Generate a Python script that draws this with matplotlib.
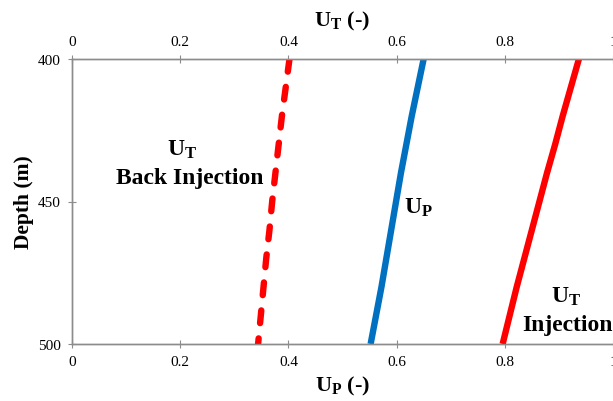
import matplotlib.pyplot as plt

plt.rcParams['font.family'] = 'Liberation Serif'
plt.rcParams['mathtext.fontset'] = 'custom'
plt.rcParams['mathtext.rm'] = 'Liberation Serif:bold'
plt.rcParams['mathtext.bf'] = 'Liberation Serif:bold'
plt.rcParams['mathtext.default'] = 'bf'

# depth (m) and the three profiles
depth = [400, 410, 420, 430, 440, 450, 460, 470, 480, 490, 500]
up = [0.650, 0.639, 0.628, 0.618, 0.608, 0.599, 0.590, 0.581, 0.572, 0.562, 0.552]
ut_injection = [0.937, 0.922, 0.907, 0.893, 0.878, 0.864, 0.850, 0.836, 0.822, 0.809, 0.796]
ut_back = [0.402, 0.395, 0.388, 0.382, 0.376, 0.370, 0.365, 0.359, 0.354, 0.349, 0.344]

xticks = [0, 0.2, 0.4, 0.6, 0.8, 1]
xticklabels = ['0', '0.2', '0.4', '0.6', '0.8', '1']
yticks = [400, 450, 500]

axis_grey = '#8c8c8c'

fig = plt.figure(figsize=(6.13, 4.02), dpi=100)
ax = fig.add_axes([72/613, 1 - 345/402, 541/613, 285/402])
ax2 = ax.twiny()

ax.plot(up, depth, color='#0070c0', lw=4.6, solid_capstyle='butt')
ax2.plot(ut_injection, depth, color='#ff0000', lw=4.6, solid_capstyle='butt')
ax2.plot(ut_back, depth, color='#ff0000', lw=4.6, dashes=(2, 2.4),
         dash_capstyle='round')

for a in (ax, ax2):
    a.set_xlim(0, 1)
    a.set_ylim(500, 400)
    a.set_xticks(xticks)
    a.set_xticklabels(xticklabels)
    a.spines['right'].set_visible(False)
    for s in ('left', 'top', 'bottom'):
        a.spines[s].set_color(axis_grey)
        a.spines[s].set_linewidth(1.0)
    a.tick_params(direction='inout', length=6, width=0.8, color=axis_grey,
                  labelsize=11, pad=5)

ax.set_yticks(yticks)
ax.set_ylabel('Depth (m)', fontsize=15.5, fontweight='bold', labelpad=3)
ax.set_xlabel(r'$U_P$ (-)', fontsize=16, fontweight='bold', labelpad=4)
ax2.set_xlabel(r'$U_T$ (-)', fontsize=16, fontweight='bold', labelpad=7)

# inline curve labels
ax.text(0.204, 431.5, r'$U_T$', fontsize=17, ha='center', va='center')
ax.text(0.217, 441.5, 'Back Injection', fontsize=17, fontweight='bold',
        ha='center', va='center')
ax.text(0.613, 452, r'$U_P$', fontsize=17, ha='left', va='center')
ax.text(0.913, 483, r'$U_T$', fontsize=17, ha='center', va='center')
ax.text(0.832, 493, 'Injection', fontsize=17, fontweight='bold',
        ha='left', va='center')

fig.savefig('out.png', dpi=100)
